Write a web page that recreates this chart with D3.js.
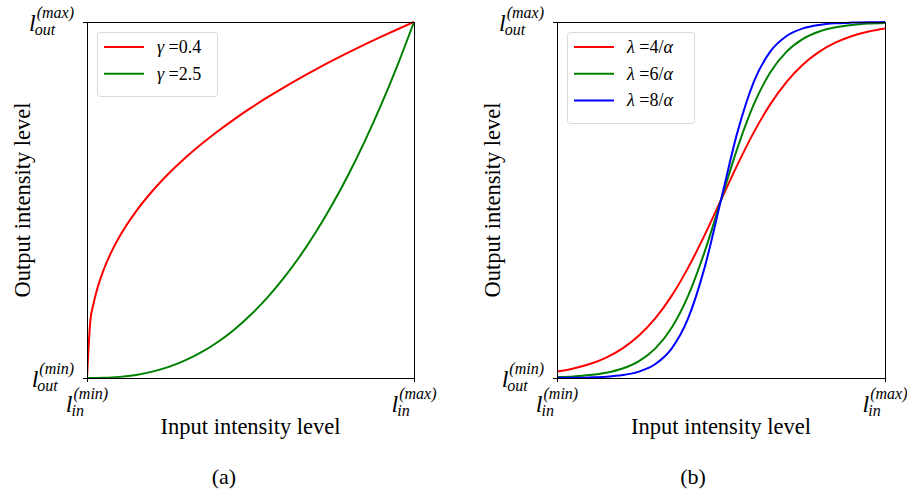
<!DOCTYPE html>
<html>
<head>
<meta charset="utf-8">
<script src="https://cdn.jsdelivr.net/npm/d3@7"></script>
<style>
html,body{margin:0;padding:0;background:#fff;}
svg{display:block;}
svg text{font-family:"Liberation Serif","Times New Roman","DejaVu Serif",serif;}
</style>
</head>
<body>
<svg id="chart" width="907" height="494"></svg>
<script>
// ---- data ----
const gammaX = [0,0.01,0.02,0.03,0.05,0.075,0.1,0.15,0.2,0.25,0.3,0.35,0.4,0.45,0.5,0.55,0.6,0.65,0.7,0.75,0.8,0.85,0.9,0.95,1];
const gamma04 = [0,0.1585,0.2091,0.2460,0.3017,0.3548,0.3981,0.4682,0.5253,0.5743,0.6178,0.6571,0.6931,0.7266,0.7579,0.7873,0.8152,0.8417,0.8670,0.8913,0.9146,0.9371,0.9587,0.9797,1];
const gamma25 = [0,0.00001,0.00006,0.00016,0.00056,0.00154,0.00316,0.00871,0.01789,0.03125,0.0493,0.07247,0.1012,0.1358,0.1768,0.2243,0.2789,0.3406,0.41,0.4871,0.5724,0.6661,0.7684,0.8797,1];

const sigX = [0,0.05,0.1,0.15,0.2,0.25,0.3,0.35,0.4,0.45,0.5,0.55,0.6,0.65,0.7,0.75,0.8,0.85,0.9,0.95,1];
const sig4 = [0.018,0.0266,0.0392,0.0573,0.0832,0.1192,0.168,0.2315,0.31,0.4013,0.5,0.5987,0.69,0.7685,0.832,0.8808,0.9168,0.9427,0.9608,0.9734,0.982];
const sig6 = [0.0025,0.0045,0.0082,0.0148,0.0266,0.0474,0.0832,0.1419,0.2315,0.3543,0.5,0.6457,0.7685,0.8581,0.9168,0.9526,0.9734,0.9852,0.9918,0.9955,0.9975];
const sig8 = [0.0003,0.0007,0.0017,0.0037,0.0082,0.018,0.0392,0.0832,0.168,0.31,0.5,0.69,0.832,0.9168,0.9608,0.982,0.9918,0.9963,0.9983,0.9993,0.9997];

const gammaLabels = ["γ", "=0.4", "=2.5"];
const sigLabels = ["=4/α", "=6/α", "=8/α"];
const tickValues = [0, 1];
const xTickSup = ["(min)", "(max)"];
const yTickSup = ["(min)", "(max)"];
const xSub = "in", ySub = "out";
const xTitle = "Input intensity level";
const yTitle = "Output intensity level";
const captions = ["(a)", "(b)"];

// ---- layout ----
const FONT = "Liberation Serif, Times New Roman, DejaVu Serif, serif";
const svg = d3.select("#chart");
const panels = [
  {x0: 87, x1: 414, cap: 224},
  {x0: 557, x1: 885, cap: 693}
];
const yTop = 22, yBot = 378;

function txt(parent) {
  return parent.append("text").attr("font-family", FONT).attr("fill", "#000");
}

function mathLabel(parent, sup, sub) {
  const g = parent.append("g");
  const l = txt(g).attr("font-style", "italic").attr("font-size", 24).text("l");
  const lw = l.node().getComputedTextLength();
  const s1 = txt(g).attr("x", lw + 1).attr("y", -13).attr("font-style", "italic").attr("font-size", 16).text(sup);
  const s2 = txt(g).attr("x", lw - 1).attr("y", 4).attr("font-style", "italic").attr("font-size", 16).text(sub);
  const w = Math.max(lw + 1 + s1.node().getComputedTextLength(), lw - 1 + s2.node().getComputedTextLength());
  return {g, w};
}

const series = [
  {x: gammaX, lines: [{y: gamma04, c: "#ff0000"}, {y: gamma25, c: "#008000"}]},
  {x: sigX, lines: [{y: sig4, c: "#ff0000"}, {y: sig6, c: "#008000"}, {y: sig8, c: "#0000ff"}]}
];

panels.forEach((p, pi) => {
  const x = d3.scaleLinear().domain([0, 1]).range([p.x0, p.x1]);
  const y = d3.scaleLinear().domain([0, 1]).range([yBot, yTop]);
  const g = svg.append("g");

  // curves
  const clipId = "clip" + pi;
  svg.append("clipPath").attr("id", clipId).append("rect")
    .attr("x", p.x0).attr("y", yTop - 2).attr("width", p.x1 - p.x0).attr("height", yBot - yTop + 4);
  const s = series[pi];
  const line = d3.line().x((d, i) => x(s.x[i])).y(d => y(d)).curve(d3.curveMonotoneX);
  s.lines.forEach(L => {
    g.append("path").attr("d", line(L.y)).attr("fill", "none")
      .attr("stroke", L.c).attr("stroke-width", 2).attr("clip-path", `url(#${clipId})`);
  });

  // spines
  g.append("rect").attr("x", p.x0 + 0.5).attr("y", yTop + 0.5)
    .attr("width", p.x1 - p.x0).attr("height", yBot - yTop)
    .attr("fill", "none").attr("stroke", "#000").attr("stroke-width", 1);

  // ticks
  tickValues.forEach((t, i) => {
    const tx = Math.round(x(t)) + 0.5;
    g.append("line").attr("x1", tx).attr("x2", tx).attr("y1", yBot).attr("y2", yBot + 4)
      .attr("stroke", "#000");
    const ty = Math.round(y(t)) + 0.5;
    g.append("line").attr("x1", p.x0 - 4).attr("x2", p.x0).attr("y1", ty).attr("y2", ty)
      .attr("stroke", "#000");
    const lx = mathLabel(g, xTickSup[i], xSub);
    lx.g.attr("transform", `translate(${x(t) - lx.w / 2},${yBot + 34})`);
    const ly = mathLabel(g, yTickSup[i], ySub);
    ly.g.attr("transform", `translate(${p.x0 - 13 - ly.w},${y(t) + 9})`);
  });

  // axis titles
  const cx = (p.x0 + p.x1) / 2;
  txt(g).attr("x", cx).attr("y", 434).attr("text-anchor", "middle")
    .attr("font-size", 22.5).text(xTitle);
  txt(g).attr("transform", `translate(${p.x0 - 57},${(yTop + yBot) / 2}) rotate(-90)`)
    .attr("text-anchor", "middle").attr("font-size", 22.5).text(yTitle);
  txt(g).attr("x", p.cap).attr("y", 484).attr("text-anchor", "middle")
    .attr("font-size", 22).text(captions[pi]);

  // legend
  const n = s.lines.length;
  const lg = g.append("g");
  const bx = p.x0 + 10, by = 32;
  const bw = pi === 0 ? 120 : 127;
  const bh = 10 + n * 27;
  lg.append("rect").attr("x", bx + 0.5).attr("y", by + 0.5).attr("width", bw).attr("height", bh)
    .attr("rx", 3).attr("fill", "#fff").attr("fill-opacity", 0.8).attr("stroke", "#d9d9d9");
  s.lines.forEach((L, i) => {
    const ry = by + 15 + i * 26.7;
    lg.append("line").attr("x1", bx + 7).attr("x2", bx + 47).attr("y1", ry).attr("y2", ry)
      .attr("stroke", L.c).attr("stroke-width", 2);
    const t = txt(lg).attr("x", bx + 60).attr("y", ry + 6).attr("font-size", 18);
    if (pi === 0) {
      t.append("tspan").attr("font-style", "italic").text(gammaLabels[0] + " ");
      t.append("tspan").text(gammaLabels[i + 1]);
    } else {
      t.append("tspan").attr("font-style", "italic").text("λ ");
      const parts = sigLabels[i].split("/");
      t.append("tspan").text(parts[0] + "/");
      t.append("tspan").attr("font-style", "italic").text(parts[1]);
    }
  });
});
</script>
</body>
</html>
